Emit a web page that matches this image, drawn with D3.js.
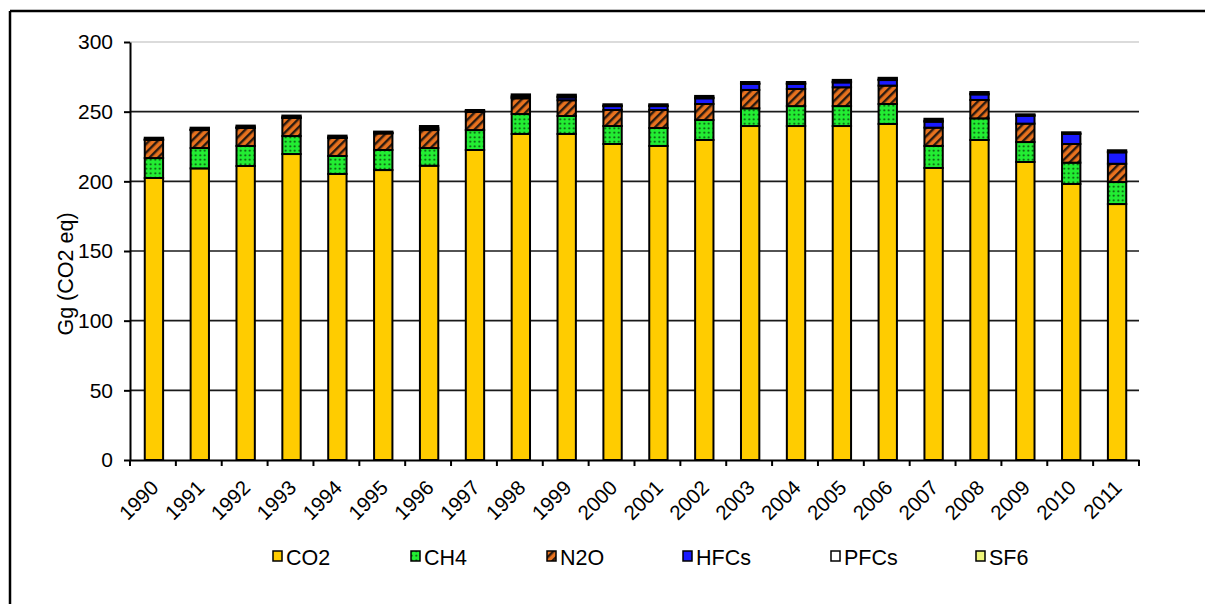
<!DOCTYPE html>
<html>
<head>
<meta charset="utf-8">
<script src="https://cdn.jsdelivr.net/npm/d3@7"></script>
<style>
  html, body { margin: 0; padding: 0; background: #fff; }
  svg { display: block; font-family: "Liberation Sans", Arial, sans-serif; }
</style>
</head>
<body>
<svg id="chart" width="1205" height="604"></svg>
<script>
// ---------------- data ----------------
const years = ["1990","1991","1992","1993","1994","1995","1996","1997","1998","1999","2000",
               "2001","2002","2003","2004","2005","2006","2007","2008","2009","2010","2011"];
const co2  = [202.4,209.3,211.0,219.6,205.3,208.1,211.2,222.5,234.0,234.0,226.8,
              225.4,229.7,239.7,239.7,239.7,241.2,209.6,229.7,213.9,198.1,183.7];
const ch4  = [14.3,14.6,14.4,12.9,12.9,14.4,12.7,14.3,14.3,12.9,12.9,
              12.9,14.3,12.7,14.3,14.3,14.3,15.8,15.5,14.3,15.3,15.8];
const n2o  = [13.0,12.9,12.9,13.0,12.9,11.9,12.9,13.0,11.3,11.3,11.5,
              12.9,11.5,13.2,12.3,13.5,13.2,13.1,13.2,13.2,13.4,13.1];
const hfcs = [0.1,0.1,0.1,0.1,0.1,0.2,0.3,0.4,0.6,2.0,2.8,
              2.8,4.1,4.3,3.6,3.5,4.0,4.3,4.0,5.7,7.2,8.2];
const pfcs = [0.4,0.4,0.4,0.4,0.4,0.3,1.2,0.3,0.9,0.7,0.3,
              0.3,0.5,0.4,0.4,0.5,0.4,0.7,0.5,0.3,0.3,0.4];
const sf6  = [1.1,1.2,1.2,1.2,1.2,0.8,1.4,0.7,1.3,1.3,1.0,
              1.0,1.2,1.0,1.0,1.3,1.2,1.4,1.2,0.7,0.9,1.1];
const seriesNames = ["CO2","CH4","N2O","HFCs","PFCs","SF6"];
const yTicks = [0,50,100,150,200,250,300];
const yTitle = "Gg (CO2 eq)";

// ---------------- setup ----------------
const svg = d3.select("#chart");
const plotLeft = 130, plotRight = 1139, plotTop = 42, plotBottom = 460;

const rows = years.map((yr,i) => ({year:yr, CO2:co2[i], CH4:ch4[i], N2O:n2o[i], HFCs:hfcs[i], PFCs:pfcs[i], SF6:sf6[i]}));
const stacked = d3.stack().keys(seriesNames)(rows);

const x = d3.scaleBand().domain(years).range([plotLeft, plotRight]).paddingInner(0.6).paddingOuter(0.3);
const y = d3.scaleLinear().domain([0,300]).range([plotBottom, plotTop]);

// patterns
const defs = svg.append("defs");
const pCH4 = defs.append("pattern").attr("id","pCH4").attr("patternUnits","userSpaceOnUse")
  .attr("width",4.5).attr("height",4.5);
pCH4.append("rect").attr("width",4.5).attr("height",4.5).attr("fill","#22ee33");
pCH4.append("circle").attr("cx",2.25).attr("cy",2.25).attr("r",1).attr("fill","#0a3a0a");

const pN2O = defs.append("pattern").attr("id","pN2O").attr("patternUnits","userSpaceOnUse")
  .attr("width",6).attr("height",6).attr("patternTransform","rotate(45)");
pN2O.append("rect").attr("width",6).attr("height",6).attr("fill","#e8721e");
pN2O.append("rect").attr("x",0).attr("width",2.4).attr("height",6).attr("fill","#2a1a10");

const fills = {CO2:"#ffcc00", CH4:"url(#pCH4)", N2O:"url(#pN2O)", HFCs:"#1a1aff", PFCs:"#ffffff", SF6:"#eef57a"};

// outer frame
svg.append("line").attr("x1",10).attr("x2",1205).attr("y1",11).attr("y2",11).attr("stroke","#000").attr("stroke-width",2.5);
svg.append("line").attr("x1",10).attr("x2",10).attr("y1",11).attr("y2",604).attr("stroke","#000").attr("stroke-width",2.5);

// gridlines
svg.append("g").selectAll("line").data(yTicks.filter(t => t > 0)).join("line")
  .attr("x1",plotLeft).attr("x2",plotRight)
  .attr("y1",d => y(d)).attr("y2",d => y(d))
  .attr("stroke",d => d === 300 ? "#cfcfcf" : "#1a1a1a")
  .attr("stroke-width",1.6);

// bars
const gBars = svg.append("g");
stacked.forEach(s => {
  gBars.append("g").selectAll("rect").data(s).join("rect")
    .attr("x", d => x(d.data.year) + 1)
    .attr("width", x.bandwidth())
    .attr("y", d => y(d[1]))
    .attr("height", d => Math.max(0, y(d[0]) - y(d[1])))
    .attr("fill", fills[s.key])
    .attr("stroke","#000")
    .attr("stroke-width",2);
});

// y axis
const yAxis = svg.append("g").attr("transform",`translate(${plotLeft},0)`)
  .call(d3.axisLeft(y).tickValues(yTicks).tickSize(6).tickPadding(11).tickSizeOuter(0));
yAxis.select(".domain").attr("stroke","#000").attr("stroke-width",2);
yAxis.selectAll(".tick line").attr("stroke","#000").attr("stroke-width",2);
yAxis.selectAll("text").attr("font-size","21px").attr("fill","#000").attr("font-family","Liberation Sans, Arial, sans-serif");

// x axis (labels via axis, ticks at band boundaries)
const xAxis = svg.append("g").attr("transform",`translate(0,${plotBottom})`)
  .call(d3.axisBottom(x).tickSize(0).tickSizeOuter(0));
xAxis.select(".domain").attr("stroke","#000").attr("stroke-width",2);
xAxis.selectAll(".tick text")
  .attr("font-size","20.5px").attr("fill","#000").attr("font-family","Liberation Sans, Arial, sans-serif")
  .attr("text-anchor","end").attr("y",0).attr("dy",0)
  .attr("transform","translate(7,29) rotate(-45)");
const step = x.step();
const boundaries = years.map(yr => x(yr) - step*x.paddingInner()/2).concat([x(years[years.length-1]) + x.bandwidth() + step*x.paddingInner()/2]);
xAxis.append("g").selectAll("line").data(boundaries).join("line")
  .attr("x1",d => d).attr("x2",d => d).attr("y1",0).attr("y2",6)
  .attr("stroke","#000").attr("stroke-width",2);

// y title
svg.append("text").attr("transform","translate(73,274) rotate(-90)")
  .attr("text-anchor","middle").attr("font-size","21.5px").attr("fill","#000").text(yTitle);

// legend
const legX = [273, 411, 547, 683, 831, 976];
const leg = svg.append("g");
seriesNames.forEach((k,i) => {
  leg.append("rect").attr("x",legX[i]).attr("y",551).attr("width",9).attr("height",10)
    .attr("fill",fills[k]).attr("stroke","#000").attr("stroke-width",1.5);
  leg.append("text").attr("x",legX[i] + 13).attr("y",565).attr("font-size","21.5px").attr("fill","#000").text(k);
});
</script>
</body>
</html>
